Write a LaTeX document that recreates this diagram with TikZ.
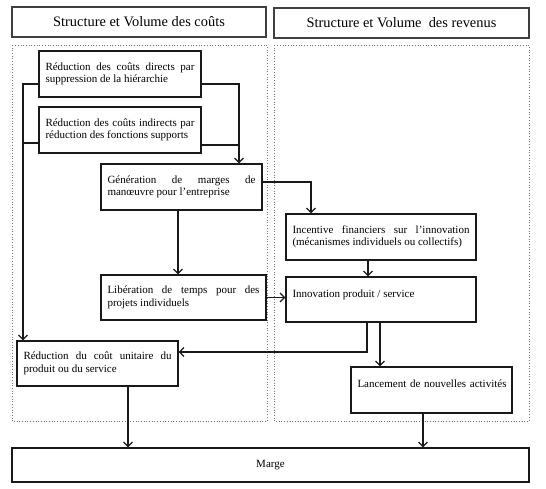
\documentclass[tikz,border=0pt]{standalone}
\usepackage{fontspec}
\setmainfont{Liberation Serif}
\usetikzlibrary{arrows.meta}
\hyphenpenalty=10000
\exhyphenpenalty=10000
\tikzset{
  box/.style={draw=black!90, line width=1.25pt, fill=white, inner xsep=6.5pt, inner ysep=0pt,
    align=justify, font=\fontsize{11}{12.5}\selectfont},
  header/.style={draw=black!75, line width=1.4pt, fill=white, align=center,
    font=\fontsize{14.4}{16}\selectfont},
  zone/.style={draw=black!55, dotted, line width=0.7pt},
  conn/.style={draw=black!90, line width=1.1pt},
  arr/.style={conn, -{Straight Barb[length=4.5pt,width=9pt,line width=1.2pt]}}
}
\begin{document}
\begin{tikzpicture}[x=1pt,y=-1pt]
\useasboundingbox (0,0) rectangle (546,489);
% zones
\draw[zone] (12,45) rectangle (267,421);
\draw[zone] (274,45) rectangle (529,421);
% headers
\node[header, minimum width=254pt, minimum height=30pt] (h1) at (139,22) {Structure et Volume des coûts};
\node[header, minimum width=255pt, minimum height=30pt] (h2) at (401.5,23) {Structure et Volume\ \ des revenus};
% boxes
\node[box, minimum width=162pt, minimum height=46pt, text width=149pt] (b1) at (120,74)
  {Réduction des coûts directs par\linebreak suppression de la hiérarchie};
\node[box, minimum width=162pt, minimum height=46pt, text width=149pt] (b2) at (120,130)
  {Réduction des coûts indirects par\linebreak réduction des fonctions supports};
\node[box, minimum width=161pt, minimum height=46pt, text width=148pt] (b3) at (181.5,187)
  {Génération de marges de\linebreak manœuvre pour l’entreprise};
\node[box, minimum width=165pt, minimum height=45pt, text width=152pt] (b4) at (183.5,297.5)
  {Libération de temps pour des\linebreak projets individuels};
\node[box, minimum width=161pt, minimum height=45pt, text width=148pt] (b5) at (97.5,363.5)
  {Réduction du coût unitaire du\linebreak produit ou du service};
\node[box, minimum width=190pt, minimum height=46pt, text width=177pt] (b6) at (381,237)
  {Incentive financiers sur l’innovation\linebreak (mécanismes individuels ou collectifs)};
\node[box, minimum width=190pt, minimum height=45pt, text width=177pt] (b7) at (381,299.5)
  {Innovation produit / service\\ \mbox{}};
\node[box, minimum width=161pt, minimum height=46pt, text width=148pt, align=left] (b8) at (431.5,390)
  {\mbox{Lancement de nouvelles activités}\\ \mbox{}};
\node[box, align=center, minimum width=517pt, minimum height=34pt, text width=504pt] (m) at (270.5,465)
  {Marge};
% helper coordinates
\coordinate (jx) at (239,0);
\coordinate (lx) at (23,0);
\coordinate (rx) at (311,0);
\coordinate (cx3) at (178,0);
\coordinate (cx6) at (368,0);
\coordinate (cx7a) at (367,0);
\coordinate (cx7b) at (380,0);
\coordinate (cx5) at (128,0);
\coordinate (cx8) at (423,0);
% connectors
\draw[arr] ([yshift=-10pt]b1.east) -| (b3.north -| jx);
\draw[conn] ([yshift=-15pt]b2.east) -- ([yshift=-15pt]b2.east -| jx);
\draw[arr] ([yshift=-10pt]b1.west) -| (b5.north -| lx);
\draw[conn] ([yshift=-13pt]b2.west) -- ([yshift=-13pt]b2.west -| lx);
\draw[arr] ([yshift=5pt]b3.east) -| (b6.north -| rx);
\draw[arr] (b3.south -| cx3) -- (b4.north -| cx3);
\draw[arr] (b4.east) -- (b4.east -| b7.west);
\draw[arr] (b6.south -| cx6) -- (b7.north -| cx6);
\draw[arr] (b7.south -| cx7a) |- ([yshift=11.5pt]b5.east);
\draw[arr] (b7.south -| cx7b) -- (b8.north -| cx7b);
\draw[arr] (b5.south -| cx5) -- (m.north -| cx5);
\draw[arr] (b8.south -| cx8) -- (m.north -| cx8);
\end{tikzpicture}
\end{document}
